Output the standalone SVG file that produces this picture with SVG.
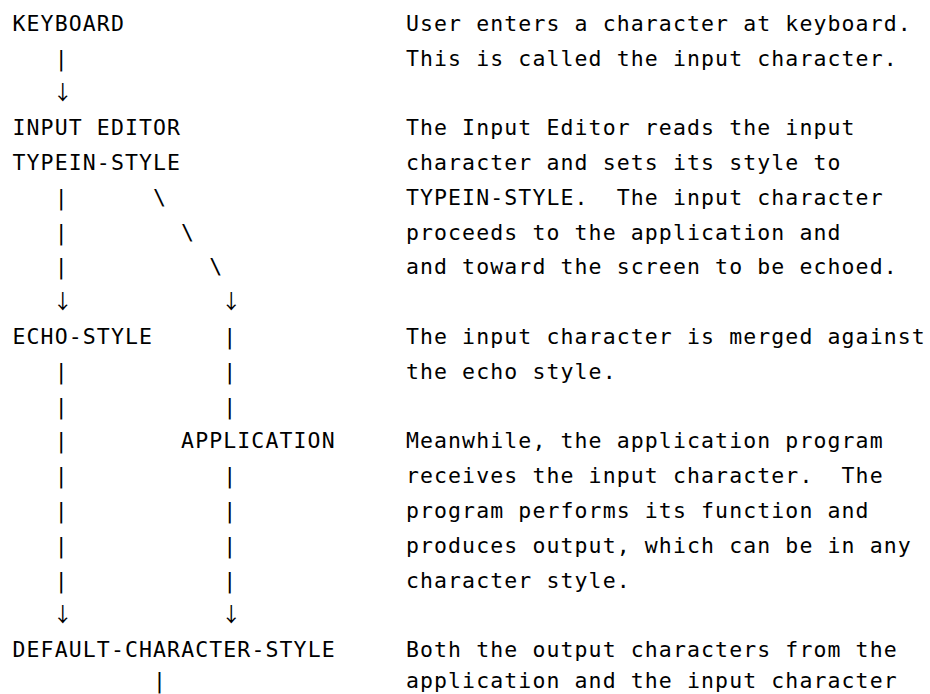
<svg xmlns="http://www.w3.org/2000/svg" width="930" height="694" viewBox="0 0 930 694">
<style>
text{font-family:"DejaVu Sans Mono","Liberation Mono",monospace;font-size:21.5px;letter-spacing:1.11px;fill:#000;white-space:pre}
text.arr{font-family:"Noto Sans CJK JP","Noto Sans CJK SC",sans-serif;font-size:20px;letter-spacing:0;text-anchor:middle}
</style>
<rect width="930" height="694" fill="#fff"/>
<g id="connectors">
<text x="54.65" y="65.5">|</text>
<text class="arr" x="62.7" y="100.3">↓</text>
<text x="54.65" y="204.7">|</text><text x="153.0" y="204.7">\</text>
<text x="54.65" y="239.5">|</text><text x="181.1" y="239.5">\</text>
<text x="54.65" y="274.3">|</text><text x="209.2" y="274.3">\</text>
<text class="arr" x="62.7" y="309.1">↓</text><text class="arr" x="231.3" y="309.1">↓</text>
<text x="223.25" y="343.9">|</text>
<text x="54.65" y="378.7">|</text><text x="223.25" y="378.7">|</text>
<text x="54.65" y="413.5">|</text><text x="223.25" y="413.5">|</text>
<text x="54.65" y="448.3">|</text>
<text x="54.65" y="483.1">|</text><text x="223.25" y="483.1">|</text>
<text x="54.65" y="517.9">|</text><text x="223.25" y="517.9">|</text>
<text x="54.65" y="552.7">|</text><text x="223.25" y="552.7">|</text>
<text x="54.65" y="587.5">|</text><text x="223.25" y="587.5">|</text>
<text class="arr" x="62.7" y="622.3">↓</text><text class="arr" x="231.3" y="622.3">↓</text>
<text x="153.0" y="688">|</text>
</g>
<g id="node-keyboard"><text x="12.5" y="30.7">KEYBOARD</text></g>
<g id="node-input-editor"><text x="12.5" y="135.1">INPUT EDITOR</text><text x="12.5" y="169.9">TYPEIN-STYLE</text></g>
<g id="node-echo-style"><text x="12.5" y="343.9">ECHO-STYLE</text></g>
<g id="node-application"><text x="181.1" y="448.3">APPLICATION</text></g>
<g id="node-default-character-style"><text x="12.5" y="657.1">DEFAULT-CHARACTER-STYLE</text></g>
<g id="descriptions">
<text x="405.9" y="30.7">User enters a character at keyboard.</text>
<text x="405.9" y="65.5">This is called the input character.</text>
<text x="405.9" y="135.1">The Input Editor reads the input</text>
<text x="405.9" y="169.9">character and sets its style to</text>
<text x="405.9" y="204.7">TYPEIN-STYLE.  The input character</text>
<text x="405.9" y="239.5">proceeds to the application and</text>
<text x="405.9" y="274.3">and toward the screen to be echoed.</text>
<text x="405.9" y="343.9">The input character is merged against</text>
<text x="405.9" y="378.7">the echo style.</text>
<text x="405.9" y="448.3">Meanwhile, the application program</text>
<text x="405.9" y="483.1">receives the input character.  The</text>
<text x="405.9" y="517.9">program performs its function and</text>
<text x="405.9" y="552.7">produces output, which can be in any</text>
<text x="405.9" y="587.5">character style.</text>
<text x="405.9" y="657.1">Both the output characters from the</text>
<text x="405.9" y="688">application and the input character</text>
</g>
</svg>
